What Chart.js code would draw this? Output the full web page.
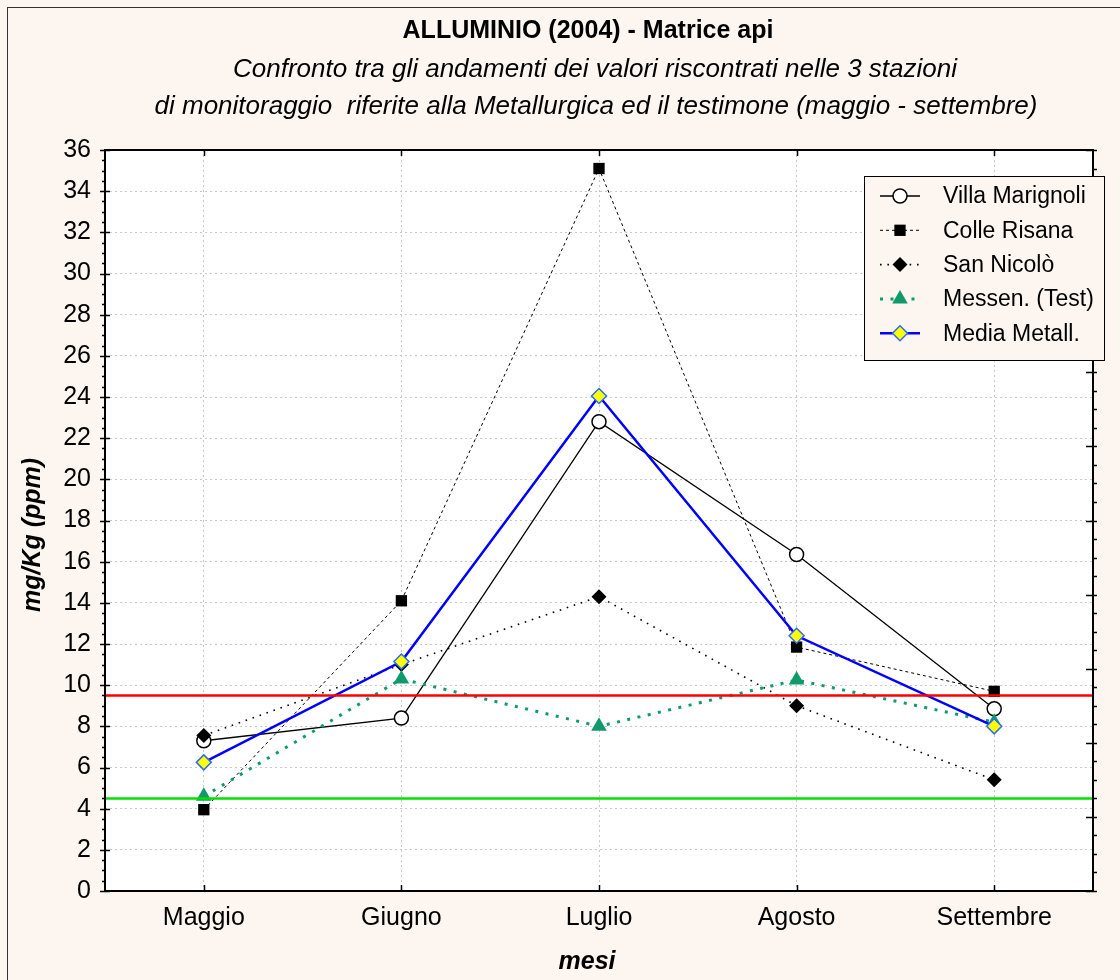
<!DOCTYPE html>
<html>
<head>
<meta charset="utf-8">
<script src="https://cdn.jsdelivr.net/npm/chart.js@4.4.1/dist/chart.umd.min.js"></script>
<style>
html,body{margin:0;padding:0;background:#fdf6f0;}
canvas{display:block;}
</style>
</head>
<body>
<canvas id="chart" width="1120" height="980"></canvas>
<script>
// valori (mg/Kg)
const mesi=['Maggio','Giugno','Luglio','Agosto','Settembre'];
const villaMarignoli=[7.3,8.4,22.8,16.35,8.85];
const colleRisana=[3.95,14.1,35.1,11.85,9.7];
const sanNicolo=[7.55,11.0,14.3,9.0,5.4];
const messenTest=[4.6,10.3,8.0,10.25,8.2];
const mediaMetall=[6.25,11.15,24.05,12.4,8.0];
const soglie=[9.5,4.5];
const coloriSoglie=['#ff0000','#00e000'];
const titolo='ALLUMINIO (2004) - Matrice api';
const sottotitolo=['Confronto tra gli andamenti dei valori riscontrati nelle 3 stazioni',
  'di monitoraggio  riferite alla Metallurgica ed il testimone (maggio - settembre)'];

const FONT="'Liberation Sans', Arial, sans-serif";
const GREEN='#0f9a6c';

const extras={
  id:'extras',
  beforeDraw(c){
    const {ctx,chartArea:a}=c;
    ctx.save();
    ctx.fillStyle='#fff';
    ctx.fillRect(a.left,a.top,a.right-a.left,a.bottom-a.top);
    ctx.restore();
  },
  afterDatasetsDraw(c){
    const {ctx,chartArea:a,scales:{y}}=c;
    ctx.save();
    soglie.forEach((v,i)=>{
      const py=Math.round(y.getPixelForValue(v))+0.5;
      ctx.strokeStyle=coloriSoglie[i];ctx.lineWidth=2.5;
      ctx.beginPath();ctx.moveTo(a.left,py);ctx.lineTo(a.right,py);ctx.stroke();
    });
    ctx.restore();
  },
  afterDraw(c){
    const {ctx,chartArea:a,scales:{x,y,y2}}=c;
    ctx.save();
    // cornice pagina
    ctx.fillStyle='#333';
    ctx.fillRect(7,7,1,973);ctx.fillRect(7,7,1113,1);
    // bordo area grafico
    ctx.strokeStyle='#000';ctx.lineWidth=2;
    ctx.strokeRect(a.left,a.top,a.right-a.left,a.bottom-a.top);
    ctx.lineWidth=1.5;
    ctx.beginPath();
    for(let v=0;v<=36.001;v+=0.5){
      const py=Math.round(y.getPixelForValue(v))+0.5;
      if(Math.abs(v%2)<1e-6){ctx.moveTo(a.left-5,py);ctx.lineTo(a.left+5,py);}
      else{ctx.moveTo(a.left-3,py);ctx.lineTo(a.left,py);}
    }
    for(let v=0;v<=10.001;v+=0.25){
      const py=Math.round(y2.getPixelForValue(v))+0.5;
      if(Math.abs(v%1)<1e-6){ctx.moveTo(a.right-7,py);ctx.lineTo(a.right+4,py);}
      else{ctx.moveTo(a.right,py);ctx.lineTo(a.right+4,py);}
    }
    mesi.forEach((m,i)=>{
      const px=Math.round(x.getPixelForValue(i))+0.5;
      ctx.moveTo(px,a.bottom);ctx.lineTo(px,a.bottom-6);
      ctx.moveTo(px,a.top);ctx.lineTo(px,a.top+6);
    });
    ctx.stroke();

    // titoli
    ctx.fillStyle='#000';ctx.textAlign='center';ctx.textBaseline='middle';
    ctx.font='bold 25px '+FONT;
    ctx.fillText(titolo,588,31);
    ctx.font='italic 26px '+FONT;
    ctx.fillText(sottotitolo[0],595,70);
    ctx.fillText(sottotitolo[1],596,107);
    ctx.font='bold italic 25px '+FONT;
    ctx.fillText('mesi',587,962);
    ctx.save();
    ctx.translate(33,535);ctx.rotate(-Math.PI/2);
    ctx.fillText('mg/Kg (ppm)',0,0);
    ctx.restore();

    // legenda
    const lx=864,ly=176,lw=240,lh=184;
    ctx.fillStyle='#fdf6f0';ctx.fillRect(lx,ly,lw,lh);
    ctx.strokeStyle='#000';ctx.lineWidth=1;
    ctx.strokeRect(lx+0.5,ly+0.5,lw,lh);
    ctx.font='23px '+FONT;ctx.textAlign='left';
    c.data.datasets.forEach((d,i)=>{
      const ry=196+i*34.3;
      ctx.save();
      ctx.strokeStyle=d.borderColor;ctx.lineWidth=d.borderWidth;
      ctx.setLineDash(d.borderDash||[]);
      ctx.beginPath();ctx.moveTo(880,ry);ctx.lineTo(920,ry);ctx.stroke();
      ctx.setLineDash([]);
      ctx.fillStyle=d.pointBackgroundColor;ctx.strokeStyle=d.pointBorderColor;
      ctx.lineWidth=d.pointBorderWidth;
      Chart.helpers.drawPoint(ctx,{pointStyle:d.pointStyle,radius:d.pointRadius,rotation:0,borderWidth:d.pointBorderWidth},900,ry);
      ctx.restore();
      ctx.fillStyle='#000';
      ctx.fillText(d.label,943,ry+1);
    });
    ctx.restore();
  }
};

new Chart(document.getElementById('chart'),{
  type:'line',
  data:{
    labels:mesi,
    datasets:[
      {label:'Villa Marignoli',data:villaMarignoli,order:5,borderColor:'#000',borderWidth:1.3,
       pointStyle:'circle',pointRadius:7,pointBackgroundColor:'#fff',pointBorderColor:'#000',pointBorderWidth:1.5},
      {label:'Colle Risana',data:colleRisana,order:4,borderColor:'#000',borderWidth:1,borderDash:[3,3],
       pointStyle:'rect',pointRadius:8,pointBackgroundColor:'#000',pointBorderColor:'#000',pointBorderWidth:0},
      {label:'San Nicolò',data:sanNicolo,order:3,borderColor:'#000',borderWidth:1.6,borderDash:[1.6,5.8],
       pointStyle:'rectRot',pointRadius:7.5,pointBackgroundColor:'#000',pointBorderColor:'#000',pointBorderWidth:0},
      {label:'Messen. (Test)',data:messenTest,order:2,borderColor:GREEN,borderWidth:3,borderDash:[3,7.5],
       pointStyle:'triangle',pointRadius:9,pointBackgroundColor:GREEN,pointBorderColor:GREEN,pointBorderWidth:0},
      {label:'Media Metall.',data:mediaMetall,order:1,borderColor:'#0000ff',borderWidth:2.5,
       pointStyle:'rectRot',pointRadius:7.5,pointBackgroundColor:'#ffff00',pointBorderColor:'#2a6bff',pointBorderWidth:1.5}
    ]
  },
  options:{
    responsive:false,
    animation:false,
    layout:{padding:{top:150,right:27,left:0,bottom:0}},
    plugins:{legend:{display:false},title:{display:false},tooltip:{enabled:false}},
    elements:{line:{tension:0},point:{hoverRadius:7}},
    scales:{
      x:{
        offset:true,
        grid:{color:'#c8c8c8',lineWidth:1,drawTicks:false},
        border:{display:false,dash:[2,3]},
        ticks:{color:'#000',font:{family:FONT,size:25},padding:12,maxRotation:0},
        afterFit(s){s.height=89;}
      },
      y:{
        min:0,max:36,
        grid:{color:'#c8c8c8',lineWidth:1,drawTicks:false},
        border:{display:false,dash:[2,3]},
        ticks:{stepSize:2,color:'#000',font:{family:FONT,size:25},padding:14},
        afterFit(s){s.width=105;}
      },
      y2:{
        display:false,position:'right',min:0,max:10
      }
    }
  },
  plugins:[extras]
});
</script>
</body>
</html>
